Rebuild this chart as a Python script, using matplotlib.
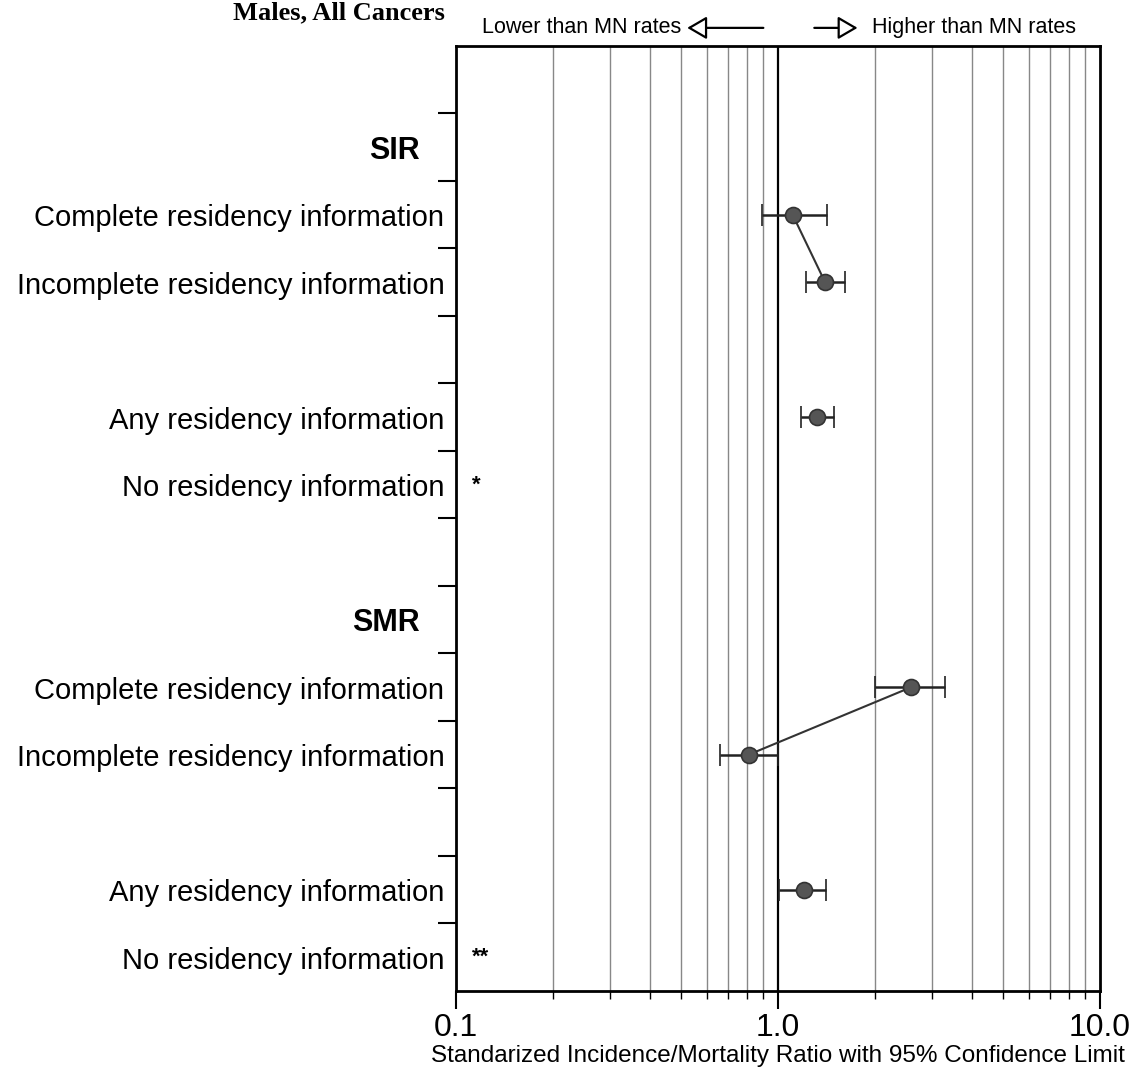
import matplotlib.pyplot as plt
import numpy as np

plt.rcParams['font.family'] = ['Liberation Sans', 'DejaVu Sans']

# rows (slot index from top), labels and values
row_labels = ['SIR', 'Complete residency information', 'Incomplete residency information',
              'Any residency information', 'No residency information',
              'SMR', 'Complete residency information', 'Incomplete residency information',
              'Any residency information', 'No residency information']
row_slots = [1, 2, 3, 5, 6, 8, 9, 10, 12, 13]
row_bold = [True, False, False, False, False, True, False, False, False, False]

# ratio estimates with 95% CI
pt_slots = [2, 3, 5, 9, 10, 12]
ratio = [1.11, 1.40, 1.32, 2.59, 0.81, 1.20]
ci_low = [0.89, 1.22, 1.18, 2.00, 0.66, 1.01]
ci_high = [1.42, 1.61, 1.49, 3.30, 1.00, 1.41]
connected = [(0, 1), (3, 4)]
missing = [(6, '*'), (13, '**')]

fig = plt.figure(figsize=(11.35, 10.72), dpi=100)
ax = fig.add_axes([0.4018, 0.0756, 0.5674, 0.8815])
ax.set_xscale('log')
ax.set_xlim(0.1, 10)
ax.set_ylim(14, 0)

# vertical grid lines
for v in list(np.arange(0.2, 1.0, 0.1)) + list(np.arange(2, 10, 1)):
    ax.axvline(v, color='#888888', lw=1.0, zorder=1)
ax.axvline(1.0, color='black', lw=1.6, zorder=1)

y = np.array(pt_slots) + 0.5
r = np.array(ratio)
for a, b in connected:
    ax.plot([r[a], r[b]], [y[a], y[b]], color='#333333', lw=1.5, zorder=2)
ax.errorbar(r, y, xerr=[r - np.array(ci_low), np.array(ci_high) - r], fmt='o',
            color='#222222', ms=11.5, mfc='#555555', mec='#333333', mew=1.2,
            elinewidth=1.8, capsize=8, capthick=1.8, zorder=3)

for slot, s in missing:
    ax.text(0.112, slot + 0.5, s, fontsize=16, fontweight='bold', va='center', ha='left')

for lab, slot, b in zip(row_labels, row_slots, row_bold):
    if b:
        ax.text(-0.056, slot + 0.55, lab, transform=ax.get_yaxis_transform(), ha='right',
                va='center', fontsize=22, fontweight='bold')
    else:
        ax.text(-0.018, slot + 0.55, lab, transform=ax.get_yaxis_transform(), ha='right',
                va='center', fontsize=21)

ax.set_yticks(range(1, 14))
ax.set_yticklabels([])
ax.tick_params(axis='y', direction='out', length=13, width=1.5)

ax.set_xticks([0.1, 1, 10])
ax.set_xticklabels(['0.1', '1.0', '10.0'], fontsize=23)
ax.tick_params(axis='x', which='major', direction='out', length=13, width=1.5, pad=3)
ax.tick_params(axis='x', which='minor', direction='out', length=6, width=1.0)
ax.set_xlabel('Standarized Incidence/Mortality Ratio with 95% Confidence Limit',
              fontsize=17.5, labelpad=1)

for sp in ax.spines.values():
    sp.set_linewidth(2)

# top direction arrows
fig.text(0.600, 0.974, 'Lower than MN rates', ha='right', va='center', fontsize=15.5)
fig.text(0.768, 0.974, 'Higher than MN rates', ha='left', va='center', fontsize=15.5)
ax.annotate('', xy=(0.603, 0.974), xytext=(0.675, 0.974), xycoords='figure fraction',
            arrowprops=dict(arrowstyle='-|>,head_length=1.2,head_width=0.7',
                            fc='white', ec='black', lw=1.6))
ax.annotate('', xy=(0.758, 0.974), xytext=(0.715, 0.974), xycoords='figure fraction',
            arrowprops=dict(arrowstyle='-|>,head_length=1.2,head_width=0.7',
                            fc='white', ec='black', lw=1.6))

fig.text(0.205, 0.999, 'Males, All Cancers', ha='left', va='top', fontsize=19,
         fontweight='bold', family='Liberation Serif')

fig.savefig('out.png', dpi=100)
